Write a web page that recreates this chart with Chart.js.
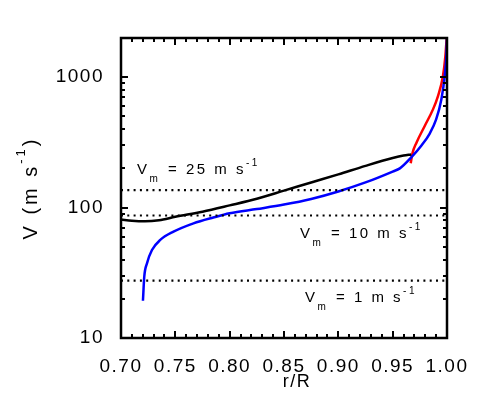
<!DOCTYPE html>
<html>
<head>
<meta charset="utf-8">
<script src="https://cdn.jsdelivr.net/npm/chart.js@4/dist/chart.umd.min.js"></script>
<style>
html,body{margin:0;padding:0;background:#fff;}
#wrap{width:485px;height:415px;}
</style>
</head>
<body>
<div id="wrap"><canvas id="c" width="485" height="415"></canvas></div>
<script>
// ---- data ----
const blackR = [0.700, 0.710, 0.722, 0.735, 0.750, 0.775, 0.800, 0.825, 0.850, 0.875, 0.900, 0.925, 0.950, 0.960, 0.967];
const blackV = [81, 79.3, 78.5, 80, 85, 93, 104, 117, 135, 156, 180, 209, 240, 251, 256];

const blueR = [0.7202, 0.7214, 0.7239, 0.7285, 0.7361, 0.7483, 0.7667, 0.785, 0.800, 0.825, 0.850, 0.875, 0.900, 0.925, 0.950, 0.9566, 0.9673, 0.9765, 0.9841, 0.990, 0.9948, 0.9979, 0.9994, 1.0];
const blueV = [19.3, 29.5, 37.4, 47.3, 56.5, 65.4, 75.8, 84, 90.4, 97.5, 105.5, 116.5, 133, 156, 189, 200, 244, 300, 370, 475, 676, 1021, 1451, 2100];

const redR = [0.9666, 0.9682, 0.9719, 0.9795, 0.9871, 0.9917, 0.9963, 0.9985, 0.9997];
const redV = [219, 261, 315, 423, 567, 717, 1021, 1451, 2000];

const vmLevels = [136, 87, 27.5];
const vmNames = ['25', '10', '1'];

const xTicks = [0.70, 0.75, 0.80, 0.85, 0.90, 0.95, 1.00];
const xTickLabels = ['0.70', '0.75', '0.80', '0.85', '0.90', '0.95', '1.00'];
const xMinorTicks = [0.70, 0.71, 0.72, 0.73, 0.74, 0.75, 0.76, 0.77, 0.78, 0.79, 0.80, 0.81, 0.82, 0.83, 0.84, 0.85, 0.86, 0.87, 0.88, 0.89, 0.90, 0.91, 0.92, 0.93, 0.94, 0.95, 0.96, 0.97, 0.98, 0.99, 1.00];
const yTicks = [10, 100, 1000];
const yTickLabels = ['10', '100', '1000'];
const yMinorTicks = [20, 30, 40, 50, 60, 70, 80, 90, 200, 300, 400, 500, 600, 700, 800, 900];
const xRange = [0.70, 1.00];
const yRange = [10, 2000];

const FONT = '"Liberation Sans", Arial, sans-serif';

function pts(xs, ys) { return xs.map((x, i) => ({x: x, y: ys[i]})); }

const datasets = [];
vmLevels.forEach(v => {
  datasets.push({
    data: pts(xRange, [v, v]),
    borderColor: '#000', borderWidth: 2.2, borderDash: [2, 4.3],
    pointRadius: 0, showLine: true, borderCapStyle: 'butt'
  });
});
datasets.push({data: pts(blackR, blackV), borderColor: '#000', borderWidth: 2.5, pointRadius: 0, showLine: true, cubicInterpolationMode: 'monotone'});
datasets.push({data: pts(blueR, blueV), borderColor: '#0000ff', borderWidth: 2.5, pointRadius: 0, showLine: true, cubicInterpolationMode: 'monotone'});
datasets.push({data: pts(redR, redV), borderColor: '#ff0000', borderWidth: 2.5, pointRadius: 0, showLine: true, cubicInterpolationMode: 'monotone'});

function drawVm(ctx, x, y, num) {
  ctx.save();
  ctx.fillStyle = '#000';
  ctx.textBaseline = 'alphabetic';
  ctx.textAlign = 'left';
  ctx.letterSpacing = '2.5px';
  ctx.font = '15px ' + FONT;
  ctx.fillText('V', x, y);
  let cx = x + ctx.measureText('V').width;
  ctx.font = '10px ' + FONT;
  ctx.fillText('m', cx, y + 8);
  cx += ctx.measureText('m').width + 1;
  ctx.font = '15px ' + FONT;
  const main = ' = ' + num + ' m s';
  ctx.fillText(main, cx, y);
  cx += ctx.measureText(main).width;
  ctx.font = '10px ' + FONT;
  ctx.fillText('-1', cx, y - 8);
  ctx.restore();
}

const tickPlugin = {
  id: 'tickmarks',
  afterDraw(chart) {
    const ctx = chart.ctx;
    const a = chart.chartArea;
    const xs = chart.scales.x, ys = chart.scales.y;
    ctx.save();
    ctx.fillStyle = '#000';
    const L = a.left, R = a.right, T = a.top, B = a.bottom;
    xMinorTicks.forEach((v, i) => {
      const px = Math.round(xs.getPixelForValue(v));
      const len = (i % 5 === 0) ? 7 : 4;
      ctx.fillRect(px - 1, B - len, 2, len);
      ctx.fillRect(px - 1, T, 2, len);
    });
    yTicks.concat(yMinorTicks).forEach(v => {
      const py = Math.round(ys.getPixelForValue(v));
      const len = (yTicks.indexOf(v) >= 0) ? 7 : 4;
      ctx.fillRect(L, py - 1, len, 2);
      ctx.fillRect(R - len, py - 1, len, 2);
    });
    ctx.restore();
  }
};

const framePlugin = {
  id: 'frame',
  beforeDraw(chart) {
    chart.ctx.letterSpacing = '1.5px';
  },
  afterDraw(chart) {
    const ctx = chart.ctx;
    const a = chart.chartArea;
    ctx.save();
    const L = a.left, R = a.right, T = a.top, B = a.bottom;
    ctx.strokeStyle = '#000';
    ctx.setLineDash([]);
    ctx.lineWidth = 2.5;
    ctx.strokeRect(L, T, R - L, B - T);

    drawVm(ctx, 137, 174, vmNames[0]);
    drawVm(ctx, 300, 238, vmNames[1]);
    drawVm(ctx, 305, 302, vmNames[2]);

    ctx.fillStyle = '#000';
    ctx.letterSpacing = '1.5px';
    ctx.font = '18px ' + FONT;
    ctx.textAlign = 'center';
    ctx.textBaseline = 'middle';
    ctx.fillText('r/R', 297, 382);

    ctx.save();
    ctx.translate(30, 188);
    ctx.rotate(-Math.PI / 2);
    ctx.textAlign = 'left';
    ctx.textBaseline = 'alphabetic';
    ctx.letterSpacing = '3px';
    const p1 = 'V (m s';
    ctx.font = '20px ' + FONT;
    const w1 = ctx.measureText(p1).width;
    ctx.font = '13px ' + FONT;
    const w2 = ctx.measureText('-1').width;
    ctx.font = '20px ' + FONT;
    const w3 = ctx.measureText(')').width;
    let sx = -(w1 + w2 + w3) / 2;
    ctx.fillText(p1, sx, 7);
    sx += w1;
    ctx.font = '13px ' + FONT;
    ctx.fillText('-1', sx, -5);
    sx += w2;
    ctx.font = '20px ' + FONT;
    ctx.fillText(')', sx, 7);
    ctx.restore();
    ctx.restore();
  }
};

new Chart(document.getElementById('c'), {
  type: 'scatter',
  data: {datasets: datasets},
  options: {
    responsive: false,
    animation: false,
    events: [],
    layout: {padding: {top: 38, right: 38, left: 0, bottom: 0}},
    plugins: {legend: {display: false}, tooltip: {enabled: false}},
    scales: {
      x: {
        type: 'linear', min: xRange[0], max: xRange[1],
        grid: {display: false}, border: {display: false},
        afterBuildTicks: s => { s.ticks = xTicks.map(v => ({value: v})); },
        afterFit: s => { s.height = 77; },
        ticks: {
          padding: 9, color: '#000', maxRotation: 0, autoSkip: false,
          font: {family: FONT, size: 19},
          callback: (v, i) => xTickLabels[i]
        }
      },
      y: {
        type: 'logarithmic', min: yRange[0], max: yRange[1],
        grid: {display: false}, border: {display: false},
        afterBuildTicks: s => { s.ticks = yTicks.map(v => ({value: v})); },
        afterFit: s => { s.width = 121; },
        ticks: {
          padding: 9, color: '#000', autoSkip: false,
          font: {family: FONT, size: 19},
          callback: (v, i) => yTickLabels[i]
        }
      }
    }
  },
  plugins: [tickPlugin, framePlugin]
});
</script>
</body>
</html>
